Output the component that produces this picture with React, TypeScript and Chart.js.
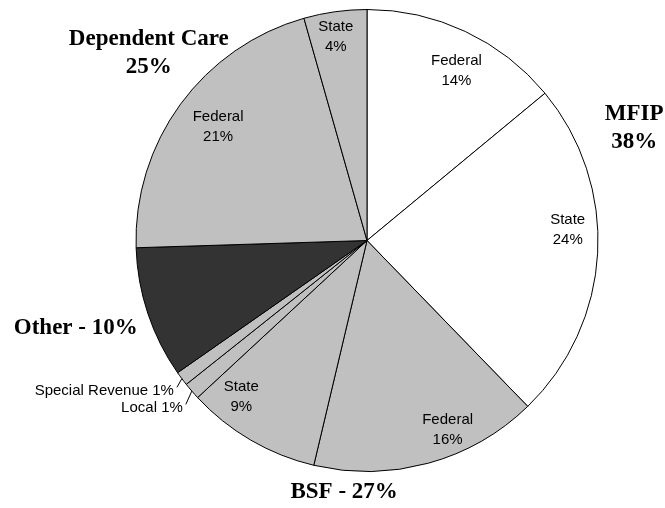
import React, { useEffect, useRef } from "react";
import { Chart, registerables } from "chart.js";

Chart.register(...registerables);

// ---- data ----
const sliceNames = ["Federal", "State", "Federal", "State", "Local", "Special Revenue", "Other", "Federal", "State"];
const slicePercentLabels = ["14%", "24%", "16%", "9%", "1%", "1%", "10%", "21%", "4%"];
const sliceValues = [14.0, 23.75, 15.95, 9.4, 1.2, 1.0, 9.2, 21.1, 4.4];
const sliceGroups = ["MFIP", "MFIP", "BSF", "BSF", "BSF", "BSF", "Other", "Dependent Care", "Dependent Care"];
const groupNames = ["MFIP", "BSF", "Other", "Dependent Care"];
const groupLabelLines = [["MFIP", "38%"], ["BSF - 27%"], ["Other - 10%"], ["Dependent Care", "25%"]];

// ---- styles / layout ----
const sliceColors = ["#FFFFFF", "#FFFFFF", "#C0C0C0", "#C0C0C0", "#C0C0C0", "#C0C0C0", "#333333", "#C0C0C0", "#C0C0C0"];
// inner label placement: [angle offset (deg) from slice middle, radius fraction]; null = outside label
const innerPlacement: ([number, number] | null)[] = [
  [2.6, 0.83],
  [-6.1, 0.87],
  [-7.7, 0.89],
  [8.5, 0.87],
  null,
  null,
  null,
  [1.1, 0.81],
  [-0.8, 0.89],
];
// outside small labels with leader lines: [angle offset, radius fraction] of the right end of the text
const outsidePlacement: Record<number, [number, number]> = {
  4: [-1.5, 1.076],
  5: [-1.1, 1.058],
};
// group labels: [angle offset (deg) from group middle, radius fraction]
const groupPlacement: [number, number][] = [
  [-0.8, 1.255],
  [-0.3, 1.095],
  [1.7, 1.316],
  [-3.5, 1.244],
];

const labelPlugin = {
  id: "pieLabels",
  afterDatasetsDraw(chart: any) {
    const ctx = chart.ctx as CanvasRenderingContext2D;
    const meta = chart.getDatasetMeta(0);
    const arcs = meta.data.map((a: any) =>
      a.getProps(["x", "y", "startAngle", "endAngle", "outerRadius"], true)
    );
    const deg = Math.PI / 180;
    ctx.save();
    ctx.fillStyle = "#000";
    ctx.textBaseline = "middle";

    // inner labels
    ctx.font = "15px 'Liberation Sans', Arial, sans-serif";
    ctx.textAlign = "center";
    arcs.forEach((p: any, i: number) => {
      const pl = innerPlacement[i];
      if (!pl) return;
      const mid = (p.startAngle + p.endAngle) / 2 + pl[0] * deg;
      const r = p.outerRadius * pl[1];
      const cx = p.x + Math.cos(mid) * r;
      const cy = p.y + Math.sin(mid) * r;
      ctx.fillText(sliceNames[i], cx, cy - 10);
      ctx.fillText(slicePercentLabels[i], cx, cy + 10);
    });

    // outside small labels with leader lines
    ctx.textAlign = "right";
    ctx.strokeStyle = "#000";
    ctx.lineWidth = 1;
    Object.keys(outsidePlacement).forEach((k) => {
      const i = Number(k);
      const p = arcs[i];
      const pl = outsidePlacement[i];
      const mid = (p.startAngle + p.endAngle) / 2;
      const a = mid + pl[0] * deg;
      const r = p.outerRadius * pl[1];
      const tx = p.x + Math.cos(a) * r;
      const ty = p.y + Math.sin(a) * r;
      ctx.fillText(sliceNames[i] + " " + slicePercentLabels[i], tx, ty);
      const ex = p.x + Math.cos(mid) * p.outerRadius;
      const ey = p.y + Math.sin(mid) * p.outerRadius;
      ctx.beginPath();
      ctx.moveTo(ex, ey);
      ctx.lineTo(tx + 3, ty - 3);
      ctx.stroke();
    });

    // group labels
    ctx.font = "bold 23px 'Liberation Serif', 'Times New Roman', serif";
    ctx.textAlign = "center";
    groupNames.forEach((g, gi) => {
      const idx = sliceGroups.map((s, i) => (s === g ? i : -1)).filter((i) => i >= 0);
      const start = arcs[idx[0]].startAngle;
      const end = arcs[idx[idx.length - 1]].endAngle;
      const pl = groupPlacement[gi];
      const a = (start + end) / 2 + pl[0] * deg;
      const p = arcs[idx[0]];
      const r = p.outerRadius * pl[1];
      const cx = p.x + Math.cos(a) * r;
      const cy = p.y + Math.sin(a) * r;
      const lines = groupLabelLines[gi];
      const lh = 28;
      lines.forEach((ln, li) => {
        ctx.fillText(ln, cx, cy + (li - (lines.length - 1) / 2) * lh);
      });
    });
    ctx.restore();
  },
};

export default function App() {
  const ref = useRef<HTMLCanvasElement | null>(null);
  useEffect(() => {
    document.body.style.margin = "0";
    document.body.style.background = "#fff";
    const canvas = ref.current!;
    const chart = new Chart(canvas, {
      type: "pie",
      data: {
        labels: sliceNames.map((n, i) => sliceGroups[i] + " " + n),
        datasets: [
          {
            data: sliceValues,
            backgroundColor: sliceColors,
            borderColor: "#000000",
            borderWidth: 1,
          },
        ],
      },
      options: {
        responsive: false,
        animation: false,
        devicePixelRatio: 1,
        layout: { padding: { left: 135, right: 66, top: 9, bottom: 36 } },
        plugins: {
          legend: { display: false },
          tooltip: { enabled: false },
        },
      },
      plugins: [labelPlugin],
    });
    return () => chart.destroy();
  }, []);
  return (
    <div style={{ width: 665, height: 508, background: "#fff" }}>
      <canvas ref={ref} width={665} height={508} />
    </div>
  );
}
